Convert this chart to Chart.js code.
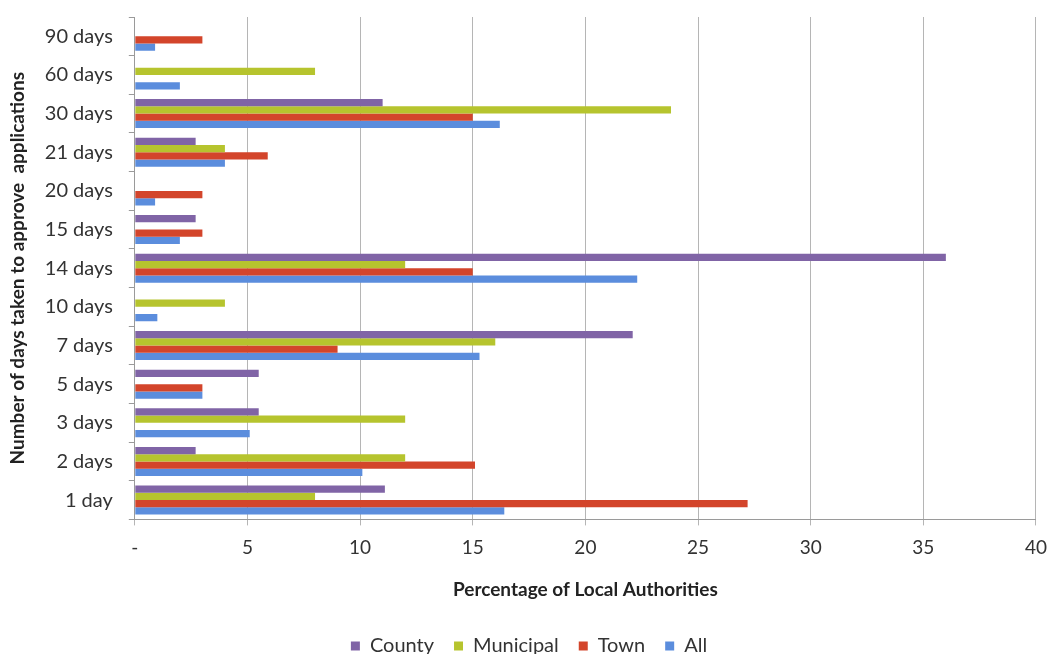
<!DOCTYPE html>
<html lang="en">
<head>
  <meta charset="UTF-8" />
  <title>Days taken to approve applications</title>
  <script src="https://cdn.jsdelivr.net/npm/chart.js"></script>
  <style>
    html, body { margin: 0; padding: 0; background: #fff; }
    #wrap { width: 1058px; height: 654px; }
  </style>
</head>
<body>

<div id="wrap">
  <canvas id="grafico" width="1058" height="654"></canvas>
</div>

<script>
  const categorias = ['90 days', '60 days', '30 days', '21 days', '20 days', '15 days', '14 days',
                      '10 days', '7 days', '5 days', '3 days', '2 days', '1 day'];

  const county    = [0, 0, 11.0, 2.7, 0, 2.7, 36.0, 0, 22.1, 5.5, 5.5, 2.7, 11.1];
  const municipal = [0, 8.0, 23.8, 4.0, 0, 0, 12.0, 4.0, 16.0, 0, 12.0, 12.0, 8.0];
  const town      = [3.0, 0, 15.0, 5.9, 3.0, 3.0, 15.0, 0, 9.0, 3.0, 0, 15.1, 27.2];
  const todos     = [0.9, 2.0, 16.2, 4.0, 0.9, 2.0, 22.3, 1.0, 15.3, 3.0, 5.1, 10.1, 16.4];

  const fonte = "Lato, 'Open Sans', sans-serif";

  const ctx = document.getElementById('grafico').getContext('2d');

  new Chart(ctx, {
    type: 'bar',
    data: {
      labels: categorias,
      datasets: [
        { label: 'County', data: county, backgroundColor: '#8064a6' },
        { label: 'Municipal', data: municipal, backgroundColor: '#b6c42e' },
        { label: 'Town', data: town, backgroundColor: '#d3452b' },
        { label: 'All', data: todos, backgroundColor: '#5b8ddd' }
      ]
    },
    options: {
      indexAxis: 'y',
      responsive: false,
      animation: false,
      datasets: {
        bar: { categoryPercentage: 0.75, barPercentage: 1.0 }
      },
      layout: {
        // legenda fica mais baixa que o padrão, por isso o fundo negativo
        padding: { left: 0, right: 0, top: 17, bottom: -12 }
      },
      scales: {
        x: {
          min: 0,
          max: 40,
          ticks: {
            stepSize: 5,
            color: '#333',
            font: { family: fonte, size: 19 },
            padding: 11,
            callback: v => v === 0 ? '-' : v
          },
          grid: { color: '#b5b5b5', drawTicks: true, tickLength: 6 },
          border: { color: '#9a9a9a' },
          title: {
            display: true,
            text: 'Percentage of Local Authorities',
            color: '#222',
            font: { family: fonte, size: 19, weight: 'bold' },
            padding: { top: 8, bottom: 15 }
          }
        },
        y: {
          ticks: {
            color: '#333',
            font: { family: fonte, size: 20 },
            padding: 16
          },
          grid: { drawOnChartArea: false, drawTicks: true, tickLength: 6, color: '#9a9a9a' },
          border: { color: '#9a9a9a' },
          title: {
            display: true,
            text: 'Number of days taken to approve  applications',
            color: '#222',
            font: { family: fonte, size: 19, weight: 'bold' },
            padding: { top: 6, bottom: 0 }
          },
          // sem isso o eixo reserva espaço em cima para o rótulo e a área do gráfico desce
          afterFit: scale => {
            scale.paddingTop = 0;
            scale.paddingBottom = 0;
          }
        }
      },
      plugins: {
        legend: {
          position: 'bottom',
          labels: {
            color: '#333',
            font: { family: fonte, size: 20 },
            boxWidth: 9,
            boxHeight: 9,
            padding: 20
          }
        },
        tooltip: { enabled: false }
      }
    }
  });
</script>

</body>
</html>
